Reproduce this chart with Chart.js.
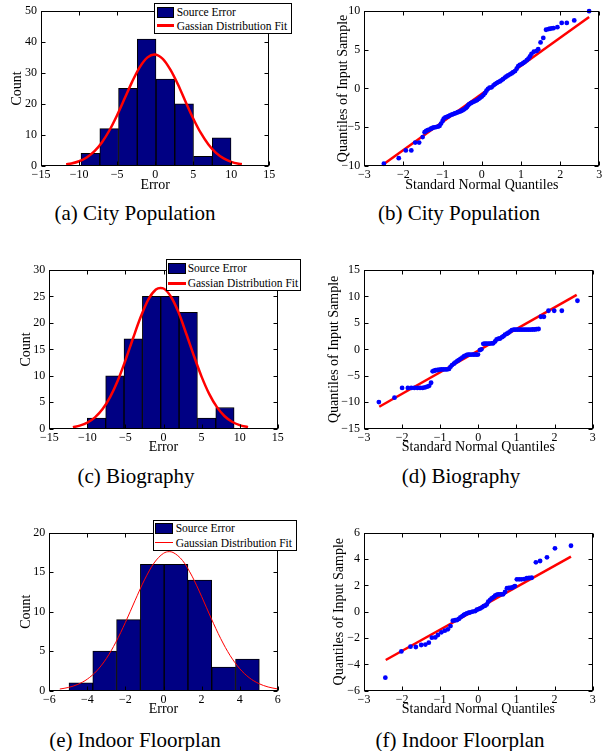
<!DOCTYPE html>
<html><head><meta charset="utf-8">
<script src="https://cdn.jsdelivr.net/npm/chart.js@4.4.1/dist/chart.umd.min.js"></script>
<style>
html,body{margin:0;padding:0;background:#fff;}
body{width:605px;height:751px;position:relative;overflow:hidden;font-family:'Liberation Serif','Times New Roman',serif;color:#000;}
canvas{position:absolute;}
.cap{position:absolute;width:300px;text-align:center;font-size:21px;line-height:24px;white-space:nowrap;}
.leg{position:absolute;border:1px solid #000;background:#fff;box-sizing:border-box;}
.legtxt{position:absolute;font-size:11.5px;line-height:14px;white-space:nowrap;}
.patch{position:absolute;background:#000083;border:1px solid #000;box-sizing:border-box;}
.lline{position:absolute;background:#ff0000;}
</style></head>
<body>
<script>
// ---------- DATA ----------
// (a) City Population histogram
const binCentersA = [-8.51, -6.04, -3.58, -1.12, 1.35, 3.81, 6.28, 8.74];
const countsA = [4, 12, 25, 41, 28, 20, 3, 9];
const fitXA = [-11.7, -11, -10, -9, -8, -7, -6, -5, -4, -3, -2, -1, -0.1, 1, 2, 3, 4, 5, 6, 7, 8, 9, 10, 11, 11.4];
const fitYA = [0.43, 0.72, 1.44, 2.67, 4.63, 7.53, 11.47, 16.35, 21.8, 27.3, 32.0, 35.05, 36.0, 34.6, 31.1, 26.3, 20.7, 15.3, 10.6, 6.87, 4.16, 2.37, 1.26, 0.63, 0.47];
const histXTicksA = [-15, -10, -5, 0, 5, 10, 15];
const histYTicksA = [0, 10, 20, 30, 40, 50];

// (b) City Population QQ plot
const qqXB = [-2.50,-2.12,-1.94,-1.80,-1.70,-1.60,-1.51,-1.46,-1.42,-1.38,-1.34,-1.30,-1.26,-1.22,-1.17,-1.12,-1.08,-1.04,-1.00,-0.97,-0.93,-0.89,-0.85,-0.81,-0.77,-0.73,-0.69,-0.65,-0.61,-0.57,-0.53,-0.49,-0.45,-0.41,-0.38,-0.35,-0.32,-0.28,-0.24,-0.20,-0.16,-0.12,-0.08,-0.04,0.00,0.04,0.08,0.12,0.16,0.20,0.25,0.30,0.34,0.38,0.42,0.46,0.50,0.54,0.59,0.63,0.67,0.72,0.76,0.80,0.85,0.89,0.93,0.97,1.02,1.06,1.10,1.15,1.19,1.23,1.27,1.33,1.40,1.44,1.50,1.57,1.64,1.70,1.74,1.79,1.83,1.93,2.04,2.17,2.36,2.74];
const qqYB = [-9.75,-9.03,-8.02,-8.02,-7.01,-7.01,-6.29,-5.66,-5.50,-5.40,-5.32,-5.22,-5.12,-5.05,-5.00,-4.95,-4.85,-4.55,-4.20,-3.90,-3.75,-3.68,-3.60,-3.48,-3.40,-3.32,-3.24,-3.16,-3.08,-3.00,-2.92,-2.82,-2.70,-2.55,-2.40,-2.20,-2.04,-1.90,-1.80,-1.70,-1.60,-1.50,-1.35,-1.20,-1.05,-0.86,-0.61,-0.30,-0.05,0.10,0.15,0.40,0.57,0.70,0.82,0.91,1.05,1.20,1.41,1.55,1.68,1.83,1.95,2.10,2.25,2.55,2.88,3.05,3.15,3.31,3.45,3.65,3.85,4.15,4.48,4.75,4.86,5.08,5.96,6.54,7.60,7.68,7.73,7.78,7.80,7.93,8.48,8.48,8.81,10.0];
const refXB = [-2.50, 2.74];
const refYB = [-9.79, 9.24];
const qqXTicksB = [-3, -2, -1, 0, 1, 2, 3];
const qqYTicksB = [-10, -5, 0, 5, 10];

// (c) Biography histogram
const binCentersC = [-8.80, -6.39, -3.98, -1.57, 0.84, 3.25, 5.66, 8.07];
const countsC = [2, 10, 17, 25, 25, 22, 2, 4];
const fitXC = [-11.9, -11, -10, -9, -8, -7, -6, -5, -4, -3, -2, -1, -0.4, 0, 1, 2, 3, 4, 5, 6, 7, 8, 9, 10, 11.1];
const fitYC = [0.29, 0.58, 1.15, 2.14, 3.71, 6.03, 9.13, 12.93, 17.1, 21.1, 24.4, 26.3, 26.6, 26.5, 24.9, 21.9, 17.9, 13.75, 9.85, 6.59, 4.12, 2.40, 1.31, 0.67, 0.29];
const histXTicksC = [-15, -10, -5, 0, 5, 10, 15];
const histYTicksC = [0, 5, 10, 15, 20, 25, 30];

// (d) Biography QQ plot
const qqXD = [-2.61,-2.20,-2.00,-1.85,-1.76,-1.68,-1.60,-1.53,-1.46,-1.40,-1.34,-1.29,-1.24,-1.20,-1.16,-1.12,-1.07,-1.02,-0.97,-0.92,-0.87,-0.82,-0.77,-0.73,-0.69,-0.64,-0.60,-0.55,-0.51,-0.47,-0.42,-0.38,-0.34,-0.30,-0.26,-0.22,-0.17,-0.13,-0.09,-0.05,-0.01,0.04,0.08,0.13,0.17,0.21,0.26,0.30,0.35,0.39,0.44,0.48,0.53,0.57,0.62,0.66,0.70,0.75,0.79,0.84,0.88,0.93,0.97,1.02,1.07,1.12,1.17,1.22,1.27,1.32,1.37,1.42,1.47,1.52,1.58,1.64,1.72,1.84,1.99,2.19,2.60];
const qqYD = [-9.96,-9.14,-7.30,-7.30,-7.30,-7.30,-7.30,-7.30,-7.30,-7.20,-7.05,-6.90,-6.31,-4.15,-4.05,-3.95,-3.90,-3.85,-3.80,-3.80,-3.80,-3.80,-3.70,-3.30,-2.97,-2.70,-2.45,-2.20,-2.02,-1.80,-1.55,-1.35,-1.20,-1.05,-1.00,-1.00,-0.98,-0.98,-0.98,-0.98,-0.98,-0.13,0.00,1.05,1.10,1.10,1.10,1.10,1.12,1.15,1.50,1.89,2.00,2.05,2.30,2.50,2.80,2.95,3.14,3.40,3.65,3.72,3.72,3.72,3.72,3.72,3.72,3.72,3.72,3.72,3.72,3.75,3.75,3.80,3.85,6.16,6.16,7.30,7.30,7.30,9.19];
const refXD = [-2.60, 2.58];
const refYD = [-10.85, 10.3];
const qqXTicksD = [-3, -2, -1, 0, 1, 2, 3];
const qqYTicksD = [-15, -10, -5, 0, 5, 10, 15];

// (e) Indoor Floorplan histogram
const binCentersE = [-4.34, -3.09, -1.84, -0.59, 0.66, 1.91, 3.16, 4.41];
const countsE = [1, 5, 9, 16, 16, 14, 3, 4];
const fitXE = [-5.45, -5, -4.5, -4, -3.5, -3, -2.5, -2, -1.5, -1, -0.5, 0, 0.3, 0.5, 1, 1.5, 2, 2.5, 3, 3.5, 4, 4.5, 5, 5.5, 6];
const fitYE = [0.21, 0.41, 0.80, 1.47, 2.53, 4.08, 6.15, 8.65, 11.39, 14.03, 16.15, 17.39, 17.6, 17.5, 16.48, 14.5, 11.94, 9.19, 6.62, 4.45, 2.80, 1.65, 0.91, 0.47, 0.22];
const histXTicksE = [-6, -4, -2, 0, 2, 4, 6];
const histYTicksE = [0, 5, 10, 15, 20];

// (f) Indoor Floorplan QQ plot
const qqXF = [-2.44,-2.02,-1.78,-1.64,-1.50,-1.39,-1.30,-1.22,-1.13,-1.06,-0.97,-0.88,-0.80,-0.73,-0.67,-0.61,-0.56,-0.51,-0.47,-0.42,-0.38,-0.34,-0.30,-0.25,-0.21,-0.15,-0.08,-0.04,0.01,0.05,0.10,0.14,0.18,0.22,0.26,0.31,0.35,0.40,0.44,0.48,0.52,0.57,0.61,0.65,0.70,0.75,0.80,0.84,0.88,0.92,0.96,1.01,1.07,1.13,1.20,1.27,1.33,1.40,1.51,1.62,1.80,2.01,2.43];
const qqYF = [-5.01,-3.02,-2.66,-2.68,-2.53,-2.50,-2.35,-1.97,-1.95,-1.77,-1.57,-1.44,-1.34,-1.09,-0.68,-0.65,-0.63,-0.55,-0.43,-0.33,-0.25,-0.18,-0.12,-0.08,-0.05,0.00,0.05,0.15,0.20,0.25,0.33,0.42,0.46,0.55,0.76,0.90,1.01,1.10,1.21,1.28,1.32,1.32,1.32,1.32,1.50,1.78,1.80,1.81,1.82,1.88,1.95,2.46,2.46,2.46,2.48,2.54,2.56,2.58,3.75,3.85,4.13,4.81,5.01];
const refXF = [-2.43, 2.43];
const refYF = [-3.67, 4.18];
const qqXTicksF = [-3, -2, -1, 0, 1, 2, 3];
const qqYTicksF = [-6, -4, -2, 0, 2, 4, 6];

// ---------- RENDERING ----------
Chart.defaults.font.family = "'Liberation Serif','Times New Roman',serif";
Chart.defaults.color = '#000';
const BAR = '#000083', DOT = '#0000ff', RED = '#ff0000';
const TICK_FONT = 12, TITLE_FONT = 14;

const fmt = v => String(v).replace('-', '\u2212');
const pts = (xs, ys) => xs.map((x, i) => ({x: x, y: ys[i]}));

const framePlugin = {
  id: 'frame',
  afterDraw(chart) {
    const {ctx, chartArea: a, scales: {x, y}} = chart;
    ctx.save();
    ctx.strokeStyle = '#000'; ctx.lineWidth = 1;
    const L = Math.round(a.left) + 0.5, R = Math.round(a.right) - 0.5;
    const T = Math.round(a.top) + 0.5, B = Math.round(a.bottom) - 0.5;
    ctx.strokeRect(L, T, R - L, B - T);
    const tl = 4;
    ctx.beginPath();
    x.ticks.forEach(t => { const p = Math.round(x.getPixelForValue(t.value)) + 0.5;
      ctx.moveTo(p, B); ctx.lineTo(p, B - tl); ctx.moveTo(p, T); ctx.lineTo(p, T + tl); });
    y.ticks.forEach(t => { const p = Math.round(y.getPixelForValue(t.value)) + 0.5;
      ctx.moveTo(L, p); ctx.lineTo(L + tl, p); ctx.moveTo(R, p); ctx.lineTo(R - tl, p); });
    ctx.stroke();
    ctx.restore();
  }
};

function panel(o) {
  const cv = document.createElement('canvas');
  cv.width = o.box.w; cv.height = o.box.h;
  cv.style.left = o.box.x + 'px'; cv.style.top = o.box.y + 'px';
  document.body.appendChild(cv);
  const lh = TITLE_FONT * 1.2;
  const xAxisH = o.box.y + o.box.h - o.plot.B;
  const yAxisW = o.plot.L - o.box.x;
  new Chart(cv, {
    type: o.type,
    data: {datasets: o.datasets},
    plugins: [framePlugin],
    options: {
      responsive: false, animation: false, devicePixelRatio: 1,
      layout: {padding: {left: 0, bottom: 0, top: o.plot.T - o.box.y, right: o.box.x + o.box.w - o.plot.R}},
      plugins: {legend: {display: false}, tooltip: {enabled: false}},
      scales: {
        x: {
          type: 'linear', min: o.xr[0], max: o.xr[1], offset: false,
          grid: {display: false, drawTicks: false, offset: false}, border: {display: false},
          afterBuildTicks: s => { s.ticks = o.xTicks.map(v => ({value: v})); },
          afterFit: s => { s.height = xAxisH; },
          ticks: {padding: 1.5, autoSkip: false, maxRotation: 0, font: {size: TICK_FONT}, color: '#000', callback: fmt},
          title: {display: true, text: o.xTitle, color: '#000', font: {size: TITLE_FONT},
                  padding: {top: 0, bottom: (o.box.y + o.box.h) - o.xTitleY - lh / 2}}
        },
        y: {
          type: 'linear', min: o.yr[0], max: o.yr[1],
          grid: {display: false, drawTicks: false}, border: {display: false},
          afterBuildTicks: s => { s.ticks = o.yTicks.map(v => ({value: v})); },
          afterFit: s => { s.width = yAxisW; },
          ticks: {padding: 4, autoSkip: false, font: {size: TICK_FONT}, color: '#000', callback: fmt},
          title: {display: true, text: o.yTitle, color: '#000', font: {size: TITLE_FONT},
                  padding: {top: o.yTitleX - o.box.x - lh / 2, bottom: 0}}
        }
      }
    }
  });
}

function histSets(centers, counts, fx, fy, lw) {
  return [
    {type: 'line', data: pts(fx, fy), borderColor: RED, borderWidth: lw, pointRadius: 0,
     cubicInterpolationMode: 'monotone', fill: false, order: 0},
    {type: 'bar', data: pts(centers, counts), backgroundColor: BAR, borderColor: '#000', borderWidth: 1,
     barPercentage: 1, categoryPercentage: 1, order: 1}
  ];
}
function qqSets(qx, qy, rx, ry) {
  return [
    {type: 'scatter', data: pts(qx, qy), backgroundColor: DOT, borderWidth: 0, pointRadius: 2.4,
     clip: false, order: 0},
    {type: 'line', data: pts(rx, ry), borderColor: RED, borderWidth: 2.5, pointRadius: 0, fill: false, order: 1}
  ];
}

panel({type: 'bar', box: {x: 0, y: 0, w: 300, h: 200}, plot: {L: 41, T: 7.3, R: 269.3, B: 165.7},
  xr: [-15, 15], yr: [0, 50], xTicks: histXTicksA, yTicks: histYTicksA,
  xTitle: 'Error', yTitle: 'Count', xTitleY: 185, yTitleX: 17.7,
  datasets: histSets(binCentersA, countsA, fitXA, fitYA, 2.5)});
panel({type: 'scatter', box: {x: 300, y: 0, w: 305, h: 200}, plot: {L: 364.3, T: 7.3, R: 599.3, B: 165.7},
  xr: [-3, 3], yr: [-10, 10], xTicks: qqXTicksB, yTicks: qqYTicksB,
  xTitle: 'Standard Normal Quantiles', yTitle: 'Quantiles of Input Sample', xTitleY: 185, yTitleX: 343.3,
  datasets: qqSets(qqXB, qqYB, refXB, refYB)});
panel({type: 'bar', box: {x: 0, y: 250, w: 300, h: 205}, plot: {L: 49.3, T: 270, R: 277.7, B: 428.7},
  xr: [-15, 15], yr: [0, 30], xTicks: histXTicksC, yTicks: histYTicksC,
  xTitle: 'Error', yTitle: 'Count', xTitleY: 447.7, yTitleX: 26,
  datasets: histSets(binCentersC, countsC, fitXC, fitYC, 2.5)});
panel({type: 'scatter', box: {x: 300, y: 250, w: 305, h: 205}, plot: {L: 364, T: 270, R: 592.7, B: 428.7},
  xr: [-3, 3], yr: [-15, 15], xTicks: qqXTicksD, yTicks: qqYTicksD,
  xTitle: 'Standard Normal Quantiles', yTitle: 'Quantiles of Input Sample', xTitleY: 447.7, yTitleX: 334.3,
  datasets: qqSets(qqXD, qqYD, refXD, refYD)});
panel({type: 'bar', box: {x: 0, y: 510, w: 300, h: 210}, plot: {L: 49.3, T: 532.7, R: 277.7, B: 690.7},
  xr: [-6, 6], yr: [0, 20], xTicks: histXTicksE, yTicks: histYTicksE,
  xTitle: 'Error', yTitle: 'Count', xTitleY: 709, yTitleX: 26,
  datasets: histSets(binCentersE, countsE, fitXE, fitYE, 1)});
panel({type: 'scatter', box: {x: 300, y: 510, w: 305, h: 210}, plot: {L: 364, T: 532.7, R: 592.7, B: 690.7},
  xr: [-3, 3], yr: [-6, 6], xTicks: qqXTicksF, yTicks: qqYTicksF,
  xTitle: 'Standard Normal Quantiles', yTitle: 'Quantiles of Input Sample', xTitleY: 709, yTitleX: 339.3,
  datasets: qqSets(qqXF, qqYF, refXF, refYF)});

// ---------- LEGENDS ----------
function legend(b, labels, lw) {
  const d = document.createElement('div');
  d.className = 'leg';
  Object.assign(d.style, {left: b.x + 'px', top: b.y + 'px', width: b.w + 'px', height: b.h + 'px'});
  document.body.appendChild(d);
  const p = document.createElement('div'); p.className = 'patch';
  Object.assign(p.style, {left: b.px + 'px', top: (b.r1 - 5.5) + 'px', width: b.pw + 'px', height: '11px'});
  document.body.appendChild(p);
  const l = document.createElement('div'); l.className = 'lline';
  Object.assign(l.style, {left: b.px + 'px', top: (b.r2 - lw / 2) + 'px', width: b.pw + 'px', height: lw + 'px'});
  document.body.appendChild(l);
  [[labels[0], b.r1], [labels[1], b.r2]].forEach(([t, yc]) => {
    const s = document.createElement('div'); s.className = 'legtxt'; s.textContent = t;
    Object.assign(s.style, {left: b.tx + 'px', top: (yc - 7) + 'px'});
    document.body.appendChild(s);
  });
}
legend({x: 153.7, y: 2.7, w: 138.6, h: 31.3, px: 157, pw: 17, tx: 176.7, r1: 12.3, r2: 25.7},
  ['Source Error', 'Gassian Distribution Fit'], 2.5);
legend({x: 165.7, y: 259.3, w: 135.5, h: 31.7, px: 168.3, pw: 17.4, tx: 187.7, r1: 268.3, r2: 283.3},
  ['Source Error', 'Gassian Distribution Fit'], 2.5);
legend({x: 152.7, y: 520, w: 144, h: 30.7, px: 155, pw: 18.3, tx: 175.7, r1: 528.3, r2: 542.7},
  ['Source Error', 'Gaussian Distribution Fit'], 1);

// ---------- CAPTIONS ----------
const captions = [
  ['(a) City Population', 135, 213], ['(b) City Population', 459, 213],
  ['(c) Biography', 136, 476], ['(d) Biography', 461, 476],
  ['(e) Indoor Floorplan', 135, 740], ['(f) Indoor Floorplan', 460, 740]
];
captions.forEach(([t, cx, cy]) => {
  const d = document.createElement('div'); d.className = 'cap'; d.textContent = t;
  d.style.left = (cx - 150) + 'px'; d.style.top = (cy - 12) + 'px';
  document.body.appendChild(d);
});
</script>
</body></html>
